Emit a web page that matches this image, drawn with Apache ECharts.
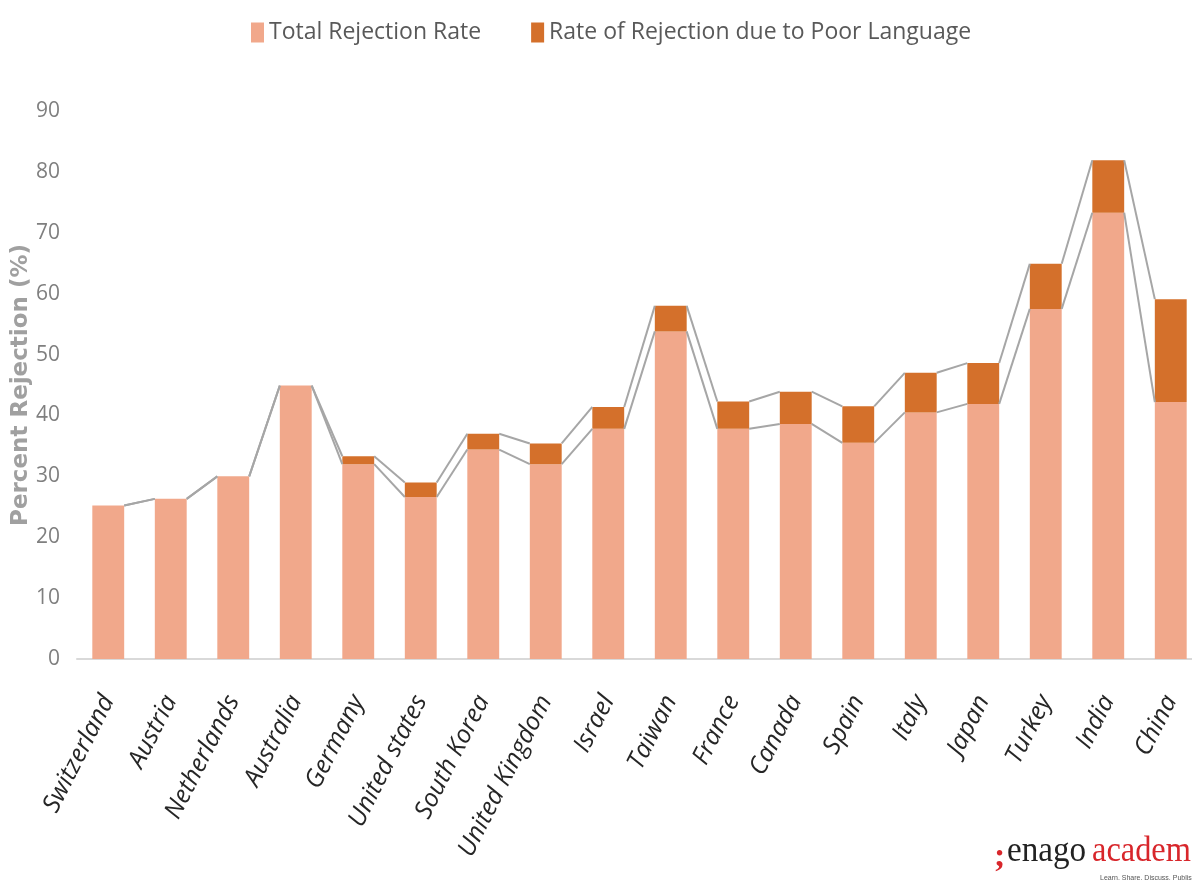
<!DOCTYPE html>
<html>
<head>
<meta charset="utf-8">
<title>Rejection rate by country</title>
<script src="https://cdn.jsdelivr.net/npm/echarts@6/dist/echarts.min.js"></script>
<style>
  html, body { margin: 0; padding: 0; background: #fff; }
  #main { width: 1192px; height: 884px; }
</style>
</head>
<body>
<div id="main"></div>
<script>
const countries = ['Switzerland', 'Austria', 'Netherlands', 'Australia', 'Germany', 'United states',
  'South Korea', 'United Kingdom', 'Israel', 'Taiwan', 'France', 'Canada', 'Spain', 'Italy',
  'Japan', 'Turkey', 'India', 'China']
// light part of each bar
const totalRate = [25.2, 26.3, 30.0, 44.9, 32.0, 26.6, 34.4, 32.0, 37.8, 53.8, 37.8, 38.6, 35.5, 40.5, 41.9, 57.5, 73.3, 42.2]
// dark part stacked on top
const languageRate = [0, 0, 0, 0, 1.3, 2.4, 2.6, 3.4, 3.6, 4.2, 4.5, 5.3, 6.0, 6.5, 6.7, 7.4, 8.6, 16.9]
const yMin = 0
const yMax = 90
const yStep = 10

const font = '"Open Sans", sans-serif'
const barRatio = 0.51

// series lines (Excel style): link the top corners of neighbouring bars
const linkData = []
for (let i = 0; i < countries.length - 1; i++) {
  linkData.push([i, totalRate[i], totalRate[i + 1],
    totalRate[i] + languageRate[i], totalRate[i + 1] + languageRate[i + 1]])
}

const chart = echarts.init(document.getElementById('main'))
chart.setOption({
  animation: false,
  legend: {
    top: 16,
    left: 246,
    itemWidth: 13,
    itemHeight: 20,
    itemGap: 50,
    icon: 'rect',
    data: ['Total Rejection Rate', 'Rate of Rejection due to Poor Language'],
    textStyle: { fontFamily: font, fontSize: 23, color: '#595959' }
  },
  grid: { left: 77, right: -10, top: 111, bottom: 225, containLabel: false, outerBoundsMode: 'none' },
  xAxis: {
    type: 'category',
    data: countries,
    axisLine: { lineStyle: { color: '#d9d9d9', width: 2 } },
    axisTick: { show: false },
    axisLabel: {
      interval: 0,
      rotate: 63,
      margin: 38,
      fontFamily: font,
      fontStyle: 'italic',
      fontSize: 25,
      color: '#262626'
    }
  },
  yAxis: {
    type: 'value',
    min: yMin,
    max: yMax,
    interval: yStep,
    name: 'Percent Rejection (%)',
    nameLocation: 'middle',
    nameGap: 44,
    nameMoveOverlap: false,
    nameRotate: 90,
    nameTextStyle: { fontFamily: 'DejaVu Sans', fontWeight: 'bold', fontSize: 23, color: '#a0a0a0' },
    axisLine: { show: false },
    axisTick: { show: false },
    splitLine: { show: false },
    axisLabel: { fontFamily: font, fontSize: 21, color: '#7f7f7f', margin: 17 }
  },
  series: [
    {
      name: 'Total Rejection Rate',
      type: 'bar',
      stack: 'rej',
      barWidth: barRatio * 100 + '%',
      itemStyle: { color: '#f1a88b' },
      data: totalRate
    },
    {
      name: 'Rate of Rejection due to Poor Language',
      type: 'bar',
      stack: 'rej',
      itemStyle: { color: '#d4702b' },
      data: languageRate
    },
    {
      type: 'custom',
      z: 3,
      data: linkData,
      encode: { x: 0, y: [1, 2, 3, 4] },
      renderItem: function (params, api) {
        const i = api.value(0)
        const half = api.size([1, 0])[0] * barRatio / 2
        const a = api.coord([i, api.value(1)])
        const b = api.coord([i + 1, api.value(2)])
        const c = api.coord([i, api.value(3)])
        const d = api.coord([i + 1, api.value(4)])
        const style = { stroke: '#a6a6a6', lineWidth: 2, fill: null }
        return {
          type: 'group',
          children: [
            { type: 'line', shape: { x1: a[0] + half, y1: a[1], x2: b[0] - half, y2: b[1] }, style: style },
            { type: 'line', shape: { x1: c[0] + half, y1: c[1], x2: d[0] - half, y2: d[1] }, style: style }
          ]
        }
      }
    }
  ],
  graphic: [
    { type: 'text', x: 994, y: 840, style: { text: ';', font: 'bold 34px "Liberation Serif"', fill: '#d8262b' } },
    { type: 'text', x: 1007, y: 834, scaleX: 0.92, style: { text: 'enago', font: '36px "Liberation Serif"', fill: '#222' } },
    { type: 'text', x: 1092, y: 834, scaleX: 0.9, style: { text: 'academ', font: '36px "Liberation Serif"', fill: '#d8262b' } },
    { type: 'text', x: 1100, y: 875, style: { text: 'Learn. Share. Discuss. Publish.', font: '7px "Liberation Sans"', fill: '#555' } }
  ]
})
</script>
</body>
</html>
